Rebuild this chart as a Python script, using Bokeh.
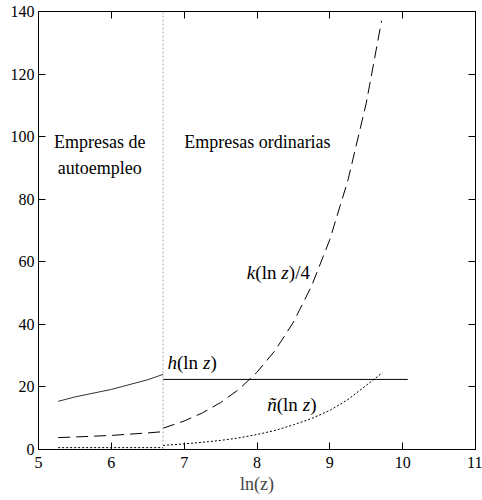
from bokeh.plotting import figure
from bokeh.models import Range1d, Span, FixedTicker, Label, LinearAxis
from bokeh.embed import file_html
from bokeh.resources import INLINE

# ---- data ----
threshold = 6.71

h_self_x = [5.27, 5.5, 6.0, 6.5, 6.71]
h_self_y = [15.4, 16.8, 19.2, 22.3, 24.0]
h_ord_x = [6.71, 10.07]
h_ord_y = [22.4, 22.4]

k_self_x = [5.27, 5.5, 6.0, 6.5, 6.71]
k_self_y = [3.8, 4.0, 4.5, 5.3, 5.7]
k_ord_x = [6.71, 7.0, 7.25, 7.5, 7.75, 8.0, 8.25, 8.5, 8.75, 9.0, 9.25, 9.5, 9.71]
k_ord_y = [6.8, 9.1, 11.7, 15.0, 19.2, 24.7, 31.7, 40.7, 52.3, 67.1, 86.2, 110.7, 137.0]

n_self_x = [5.27, 6.71]
n_self_y = [0.6, 0.6]
n_ord_x = [6.71, 7.0, 7.25, 7.5, 7.75, 8.0, 8.25, 8.5, 8.75, 9.0, 9.25, 9.5, 9.72]
n_ord_y = [1.3, 1.8, 2.3, 2.9, 3.7, 4.8, 6.1, 7.9, 9.9, 12.5, 16.0, 20.5, 24.5]

x_min, x_max = 5, 11
y_min, y_max = 0, 140
x_ticks = [5, 6, 7, 8, 9, 10, 11]
y_ticks = [0, 20, 40, 60, 80, 100, 120, 140]

FONT = "Liberation Serif"

p = figure(width=482, height=496, output_backend="svg", toolbar_location=None,
           x_range=Range1d(x_min, x_max), y_range=Range1d(y_min, y_max),
           min_border_left=38, min_border_right=7, min_border_top=11, min_border_bottom=0)
p.grid.visible = False
p.outline_line_color = "black"
p.background_fill_color = "white"
p.border_fill_color = "white"

for ax in p.xaxis:
    ax.ticker = FixedTicker(ticks=x_ticks)
for ax in p.yaxis:
    ax.ticker = FixedTicker(ticks=y_ticks)

for ax in list(p.xaxis) + list(p.yaxis):
    ax.major_tick_in = 7
    ax.major_tick_out = 0
    ax.minor_tick_line_color = None
    ax.axis_line_color = "black"
    ax.major_tick_line_color = "black"
    ax.major_label_text_font = FONT
    ax.major_label_text_font_size = "16px"
    ax.major_label_text_color = "black"
    ax.major_label_standoff = 4

p.xaxis.major_label_standoff = 7
p.xaxis.axis_label = "ln(z)"
p.xaxis.axis_label_text_font = FONT
p.xaxis.axis_label_text_font_style = "normal"
p.xaxis.axis_label_text_font_size = "18px"
p.xaxis.axis_label_standoff = 3

# inward ticks on the top and right edges of the box (labels hidden)
for side, ticks in (("above", x_ticks), ("right", y_ticks)):
    ax = LinearAxis(ticker=FixedTicker(ticks=ticks), major_tick_in=7, major_tick_out=0,
                    minor_tick_line_color=None, major_tick_line_color="black",
                    axis_line_color="black", major_label_text_color=None,
                    major_label_text_font_size="1px", major_label_standoff=0)
    p.add_layout(ax, side)

p.add_layout(Span(location=threshold, dimension="height", line_color="#aaaaaa",
                  line_dash="2 2", line_width=1))

p.line(h_self_x, h_self_y, line_color="#333333", line_width=1)
p.line(h_ord_x, h_ord_y, line_color="black", line_width=1)
p.line(k_self_x, k_self_y, line_color="black", line_width=1, line_dash="12 6")
p.line(k_ord_x, k_ord_y, line_color="black", line_width=1, line_dash="12 6")
p.line(n_self_x, n_self_y, line_color="black", line_width=1, line_dash="2 2")
p.line(n_ord_x, n_ord_y, line_color="black", line_width=1, line_dash="2 2")

def lab(x, y, t, xo=0, style="normal", size="18px", align="left", baseline="middle"):
    p.add_layout(Label(x=x, y=y, text=t, x_offset=xo, text_font=FONT,
                       text_font_style=style, text_font_size=size,
                       text_align=align, text_baseline=baseline, text_color="black"))

lab(5.84, 98.3, "Empresas de", align="center")
lab(5.84, 90.0, "autoempleo", align="center")
lab(7.0, 98.3, "Empresas ordinarias")

def math_label(x, y, first, w):
    lab(x, y, first, 0, "italic", "19px")
    lab(x, y, "(ln", w, "normal", "19px")
    lab(x, y, "z", w + 26, "italic", "19px")
    lab(x, y, ")", w + 33.5, "normal", "19px")

math_label(6.77, 27.8, "h", 9.5)
math_label(8.14, 14.4, "ñ", 9.5)
math_label(7.86, 56.5, "k", 8.5)
lab(7.86, 56.5, "/4", 8.5 + 40, "normal", "19px")

open("out.html", "w").write(file_html(p, INLINE))
